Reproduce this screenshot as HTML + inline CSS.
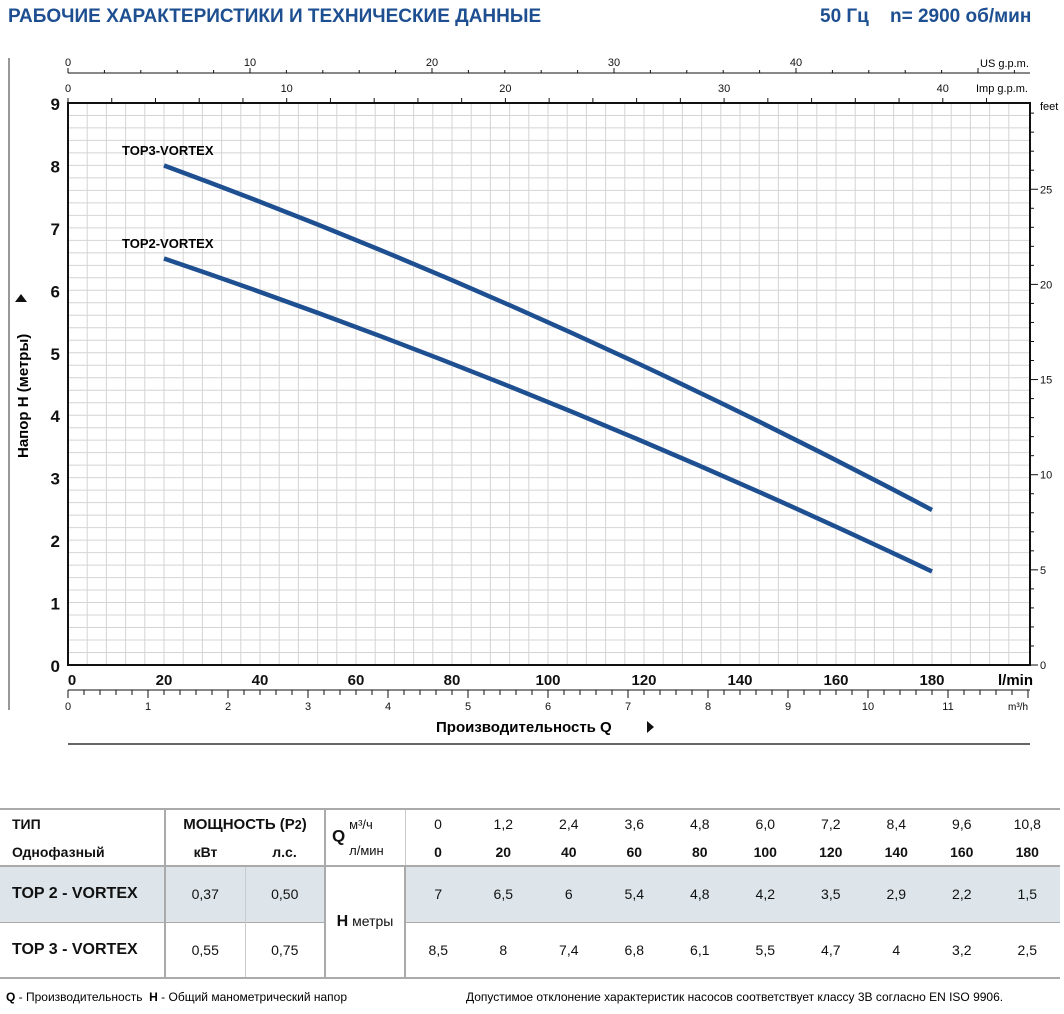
<!DOCTYPE html><html><head><meta charset="utf-8"><style>
body{margin:0;width:1064px;height:1014px;background:#fff;font-family:"Liberation Sans",sans-serif;overflow:hidden;position:relative}
.t{position:absolute;white-space:nowrap}
table{position:absolute;left:0;top:808px;width:1060px;border-collapse:collapse;font-size:14px;color:#111;table-layout:fixed}
td{text-align:center;padding:0}
</style></head><body>
<div class="t" style="left:8px;top:6px;font-size:19px;font-weight:bold;color:#1d4f91">РАБОЧИЕ ХАРАКТЕРИСТИКИ И ТЕХНИЧЕСКИЕ ДАННЫЕ</div>
<div class="t" style="left:820px;top:6px;font-size:19px;font-weight:bold;color:#1d4f91">50 Гц &nbsp;&nbsp; n= 2900 об/мин</div>
<svg width="1064" height="800" style="position:absolute;left:0;top:0" font-family="Liberation Sans,sans-serif">
<line x1="9" y1="58" x2="9" y2="710" stroke="#777" stroke-width="1.5"/>
<g id="grid" stroke="#d4d4d4" stroke-width="1"></g>
<rect x="68" y="103" width="962" height="562" fill="none" stroke="#111" stroke-width="2"/>
<g id="ax" stroke="#111" stroke-width="1" fill="#111"></g>
<path fill="none" stroke="#1d4f91" stroke-width="4.5" d="M164,165.5 Q548,306.75 932,510"/>
<path fill="none" stroke="#1d4f91" stroke-width="4.5" d="M164,258.5 Q548,389 932,571.5"/>
<text x="122" y="155" font-size="13" font-weight="bold">TOP3-VORTEX</text>
<text x="122" y="248" font-size="13" font-weight="bold">TOP2-VORTEX</text>
<text transform="translate(28,458) rotate(-90)" font-size="15" font-weight="bold">Напор H (метры)</text>
<polygon points="15,302 27,302 21,294" fill="#111"/>
<text x="436" y="732" font-size="15" font-weight="bold">Производительность Q</text>
<polygon points="647,721 647,733 654,727" fill="#111"/>
<line x1="68" y1="744" x2="1030" y2="744" stroke="#333" stroke-width="1.5"/>
<text x="998" y="685" font-size="15" font-weight="bold">l/min</text>
<text x="1008" y="710" font-size="10">m³/h</text>
<text x="980" y="67" font-size="11">US g.p.m.</text>
<text x="976" y="92" font-size="11">Imp g.p.m.</text>
<text x="1040" y="110" font-size="11">feet</text>
</svg>
<script>
var g=document.getElementById('grid'),a=document.getElementById('ax'),s='',t='';
function L(x1,y1,x2,y2){return '<line x1="'+x1+'" y1="'+y1+'" x2="'+x2+'" y2="'+y2+'"/>';}
function T(x,y,txt,sz,w,anc){return '<text stroke="none" x="'+x+'" y="'+y+'" font-size="'+sz+'" font-weight="'+(w||'normal')+'" text-anchor="'+(anc||'middle')+'">'+txt+'</text>';}
for(var i=1;i<50;i++){var x=68+i*19.2;if(x<1030)s+=L(x,103,x,665);}
for(var i=1;i<45;i++){var y=665-i*12.49;s+=L(68,y,1030,y);}
g.innerHTML=s;
for(var h=0;h<=9;h++)t+=T(60,665-h*62.44+7,h,17,'bold','end');
for(var q=0;q<=180;q+=20)t+=T(68+q*4.8+(q==0?4:0),685,q,15,'bold');
t+=L(68,73,1030,73);
for(var u=0;u*18.2<=962;u+=2){var x=68+u*18.2;t+=L(x,73,x,u%10==0?68:70);if(u%10==0&&u<=40)t+=T(x,66,u,11);}
for(var u=0;u*21.87<=962;u+=2){var x=68+u*21.87;t+=L(x,103,x,98);if(u%10==0&&u<=40)t+=T(x,92,u,11);}
for(var f=0;f*19.03<=562;f++){var y=665-f*19.03;t+=L(1030,y,f%5==0?1038:1034,y);if(f%5==0)t+=T(1040,y+4,f,11,'normal','start');}
t+=L(68,690,1030,690);
for(var m=0;m*16<=962;m++){var x=68+m*16;t+=L(x,690,x,m%5==0?698:695);if(m%5==0&&m<=55)t+=T(x,710,m/5,11);}
a.innerHTML=t;
</script>
<table>
<colgroup><col style="width:165px"><col style="width:80px"><col style="width:80px"><col style="width:80px"><col span="10" style="width:65.5px"></colgroup>
<tr style="height:29px;border-top:2px solid #aaa"><td style="text-align:left;padding-left:12px;font-weight:bold">ТИП</td><td colspan="2" style="font-weight:bold;font-size:15px;border-left:2px solid #aaa">МОЩНОСТЬ (P<small>2</small>)</td><td rowspan="2" style="border-left:2px solid #aaa;text-align:left;padding-left:6px"><b style="font-size:17px">Q</b> <span style="display:inline-block;vertical-align:middle;font-size:13px;line-height:26px">м³/ч<br>л/мин</span></td>
<td style="border-left:1px solid #ccc">0</td><td>1,2</td><td>2,4</td><td>3,6</td><td>4,8</td><td>6,0</td><td>7,2</td><td>8,4</td><td>9,6</td><td>10,8</td></tr>
<tr style="height:28px;border-bottom:2px solid #aaa"><td style="text-align:left;padding-left:12px;font-weight:bold">Однофазный</td><td style="font-weight:bold;border-left:2px solid #aaa">кВт</td><td style="font-weight:bold">л.с.</td>
<td style="border-left:1px solid #ccc"><b>0</b></td><td><b>20</b></td><td><b>40</b></td><td><b>60</b></td><td><b>80</b></td><td><b>100</b></td><td><b>120</b></td><td><b>140</b></td><td><b>160</b></td><td><b>180</b></td></tr>
<tr style="height:56px;background:#dde5ea;border-bottom:1px solid #aaa"><td style="text-align:left;padding-left:12px;font-weight:bold;font-size:16px">TOP 2 - VORTEX</td><td style="border-left:2px solid #aaa">0,37</td><td style="border-left:1px solid #ccc">0,50</td><td rowspan="2" style="background:#fff;border-left:2px solid #aaa;border-right:2px solid #aaa"><b style="font-size:16px">H</b> метры</td>
<td>7</td><td>6,5</td><td>6</td><td>5,4</td><td>4,8</td><td>4,2</td><td>3,5</td><td>2,9</td><td>2,2</td><td>1,5</td></tr>
<tr style="height:56px;border-bottom:2px solid #aaa"><td style="text-align:left;padding-left:12px;font-weight:bold;font-size:16px">TOP 3 - VORTEX</td><td style="border-left:2px solid #aaa">0,55</td><td style="border-left:1px solid #ccc">0,75</td>
<td>8,5</td><td>8</td><td>7,4</td><td>6,8</td><td>6,1</td><td>5,5</td><td>4,7</td><td>4</td><td>3,2</td><td>2,5</td></tr>
</table>
<div class="t" style="left:6px;top:990px;font-size:12px"><b>Q</b> - Производительность &nbsp;<b>H</b> - Общий манометрический напор</div>
<div class="t" style="left:466px;top:990px;font-size:12px">Допустимое отклонение характеристик насосов соответствует классу 3B согласно EN ISO 9906.</div>
</body></html>
